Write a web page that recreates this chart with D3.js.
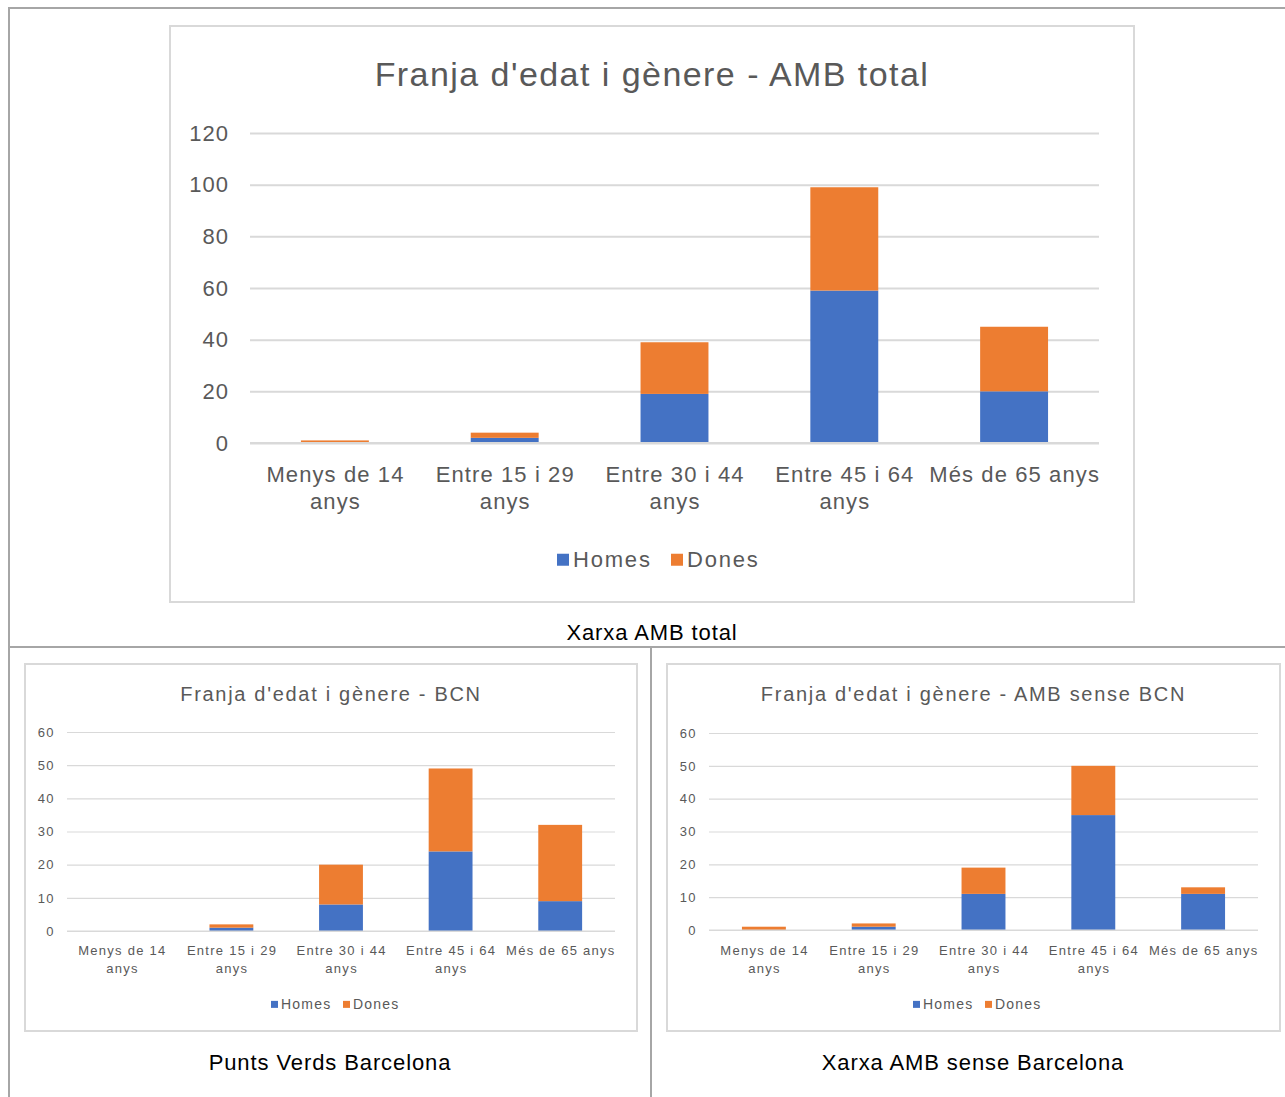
<!DOCTYPE html>
<html>
<head>
<meta charset="utf-8">
<script src="https://cdn.jsdelivr.net/npm/d3@7"></script>
<style>
  html, body { margin: 0; padding: 0; background: #fff; }
  svg { display: block; }
</style>
</head>
<body>
<svg id="page" width="1285" height="1097"></svg>
<script>
// Age bands shared by all three charts
const categories = [["Menys de 14", "anys"], ["Entre 15 i 29", "anys"], ["Entre 30 i 44", "anys"], ["Entre 45 i 64", "anys"], ["Més de 65 anys"]];
const seriesNames = ["Homes", "Dones"];

// Whole AMB network
const totalHomes = [0, 2, 19, 59, 20];
const totalDones = [1, 2, 20, 40, 25];
const totalTicks = [0, 20, 40, 60, 80, 100, 120];

// Barcelona green points
const bcnHomes = [0, 1, 8, 24, 9];
const bcnDones = [0, 1, 12, 25, 23];

// AMB network without Barcelona
const restHomes = [0, 1, 11, 35, 11];
const restDones = [1, 1, 8, 15, 2];
const smallTicks = [0, 10, 20, 30, 40, 50, 60];

const COLORS = { Homes: "#4472C4", Dones: "#ED7D31" };
const TEXT = "#595959";
const GRID = "#d9d9d9";
const FONT = "'Liberation Sans', Arial, sans-serif";

const svg = d3.select("#page");

// Table frame around the three charts
const frame = svg.append("g").attr("stroke", "#a6a6a6").attr("stroke-width", 2);
frame.append("line").attr("x1", 9).attr("x2", 1285).attr("y1", 8).attr("y2", 8);
frame.append("line").attr("x1", 9).attr("x2", 9).attr("y1", 7).attr("y2", 1097);
frame.append("line").attr("x1", 9).attr("x2", 1285).attr("y1", 647).attr("y2", 647);
frame.append("line").attr("x1", 651).attr("x2", 651).attr("y1", 647).attr("y2", 1097);

function caption(text, x, y) {
  svg.append("text")
    .attr("x", x).attr("y", y)
    .attr("text-anchor", "middle")
    .attr("font-family", FONT).attr("font-size", 22)
    .attr("letter-spacing", 0.9)
    .attr("fill", "#000")
    .text(text);
}

function drawChart(o) {
  const g = svg.append("g");
  // chart area box
  g.append("rect")
    .attr("x", o.box[0]).attr("y", o.box[1])
    .attr("width", o.box[2]).attr("height", o.box[3])
    .attr("fill", "#fff").attr("stroke", GRID).attr("stroke-width", 2);

  const boxCx = o.box[0] + o.box[2] / 2;

  g.append("text")
    .attr("x", boxCx).attr("y", o.titleY)
    .attr("text-anchor", "middle")
    .attr("font-family", FONT).attr("font-size", o.titleSize)
    .attr("letter-spacing", o.titleLs)
    .attr("fill", TEXT)
    .text(o.title);

  const x = d3.scaleBand()
    .domain(d3.range(categories.length))
    .range([o.plot[0], o.plot[1]])
    .paddingInner(0.6).paddingOuter(0.3);
  const y = d3.scaleLinear()
    .domain([0, d3.max(o.ticks)])
    .range([o.plot[2], o.plot[3]]);

  // gridlines + tick labels
  const yAxis = d3.axisLeft(y).tickValues(o.ticks)
    .tickSize(-(o.plot[1] - o.plot[0])).tickPadding(o.tickPad);
  const ag = g.append("g")
    .attr("transform", `translate(${o.plot[0]},0)`)
    .call(yAxis);
  ag.select(".domain").remove();
  ag.selectAll(".tick line").attr("stroke", GRID).attr("stroke-width", o.gridW);
  ag.selectAll(".tick text")
    .attr("font-family", FONT).attr("font-size", o.tickSize)
    .attr("letter-spacing", o.tickLs)
    .attr("fill", TEXT);

  // stacked bars
  const rows = categories.map((c, i) => ({ Homes: o.homes[i], Dones: o.dones[i] }));
  const stacked = d3.stack().keys(seriesNames)(rows);
  g.append("g").selectAll("g")
    .data(stacked).join("g")
    .attr("fill", d => COLORS[d.key])
    .selectAll("rect")
    .data(d => d.map((v, i) => ({ v, i })))
    .join("rect")
    .attr("x", d => x(d.i))
    .attr("width", x.bandwidth())
    .attr("y", d => y(d.v[1]))
    .attr("height", d => y(d.v[0]) - y(d.v[1]));

  // baseline drawn over the bars' bottom edge
  g.append("line")
    .attr("x1", o.plot[0]).attr("x2", o.plot[1])
    .attr("y1", y(0)).attr("y2", y(0))
    .attr("stroke", GRID).attr("stroke-width", o.gridW);

  // category labels
  const cl = g.append("g");
  categories.forEach((lines, i) => {
    const cx = x(i) + x.bandwidth() / 2 + o.catLs / 2;
    const t = cl.append("text")
      .attr("x", cx)
      .attr("y", o.catY)
      .attr("text-anchor", "middle")
      .attr("font-family", FONT).attr("font-size", o.catSize)
      .attr("letter-spacing", o.catLs)
      .attr("fill", TEXT);
    lines.forEach((ln, k) => {
      t.append("tspan")
        .attr("x", cx)
        .attr("dy", k === 0 ? 0 : o.catLine)
        .text(ln);
    });
  });

  // legend
  const lg = g.append("g");
  seriesNames.forEach((name, k) => {
    const lx = o.legendX[k];
    lg.append("rect")
      .attr("x", lx).attr("y", o.legendY - o.sw / 2 - o.legendSize * 0.33)
      .attr("width", o.sw).attr("height", o.sw)
      .attr("fill", COLORS[name]);
    lg.append("text")
      .attr("x", lx + o.sw + o.gap).attr("y", o.legendY)
      .attr("font-family", FONT).attr("font-size", o.legendSize)
      .attr("letter-spacing", o.legendLs)
      .attr("fill", TEXT)
      .text(name);
  });
}

drawChart({
  title: "Franja d'edat i gènere - AMB total",
  box: [170, 26, 964, 576],
  plot: [250, 1099, 443, 133],
  ticks: totalTicks,
  homes: totalHomes, dones: totalDones,
  titleY: 86, titleSize: 34, titleLs: 1.45,
  tickSize: 22, tickPad: 21, tickLs: 1, gridW: 2,
  catY: 482, catSize: 22, catLs: 1.1, catLine: 27,
  legendY: 567, legendSize: 22, legendLs: 1.8, legendX: [557, 671], sw: 12, gap: 4
});

drawChart({
  title: "Franja d'edat i gènere - BCN",
  box: [25, 664, 612, 367],
  plot: [67, 615, 931, 732],
  ticks: smallTicks,
  homes: bcnHomes, dones: bcnDones,
  titleY: 701, titleSize: 20, titleLs: 1.7,
  tickSize: 13, tickPad: 12, tickLs: 1.4, gridW: 1.2,
  catY: 955, catSize: 13, catLs: 1.27, catLine: 18,
  legendY: 1009, legendSize: 14, legendLs: 1.2, legendX: [271, 343], sw: 7, gap: 3
});

drawChart({
  title: "Franja d'edat i gènere - AMB sense BCN",
  box: [667, 664, 613, 367],
  plot: [709, 1258, 930, 733],
  ticks: smallTicks,
  homes: restHomes, dones: restDones,
  titleY: 701, titleSize: 20, titleLs: 1.7,
  tickSize: 13, tickPad: 12, tickLs: 1.4, gridW: 1.2,
  catY: 955, catSize: 13, catLs: 1.27, catLine: 18,
  legendY: 1009, legendSize: 14, legendLs: 1.2, legendX: [913, 985], sw: 7, gap: 3
});

caption("Xarxa AMB total", 652, 640);
caption("Punts Verds Barcelona", 330, 1070);
caption("Xarxa AMB sense Barcelona", 973, 1070);
</script>
</body>
</html>
